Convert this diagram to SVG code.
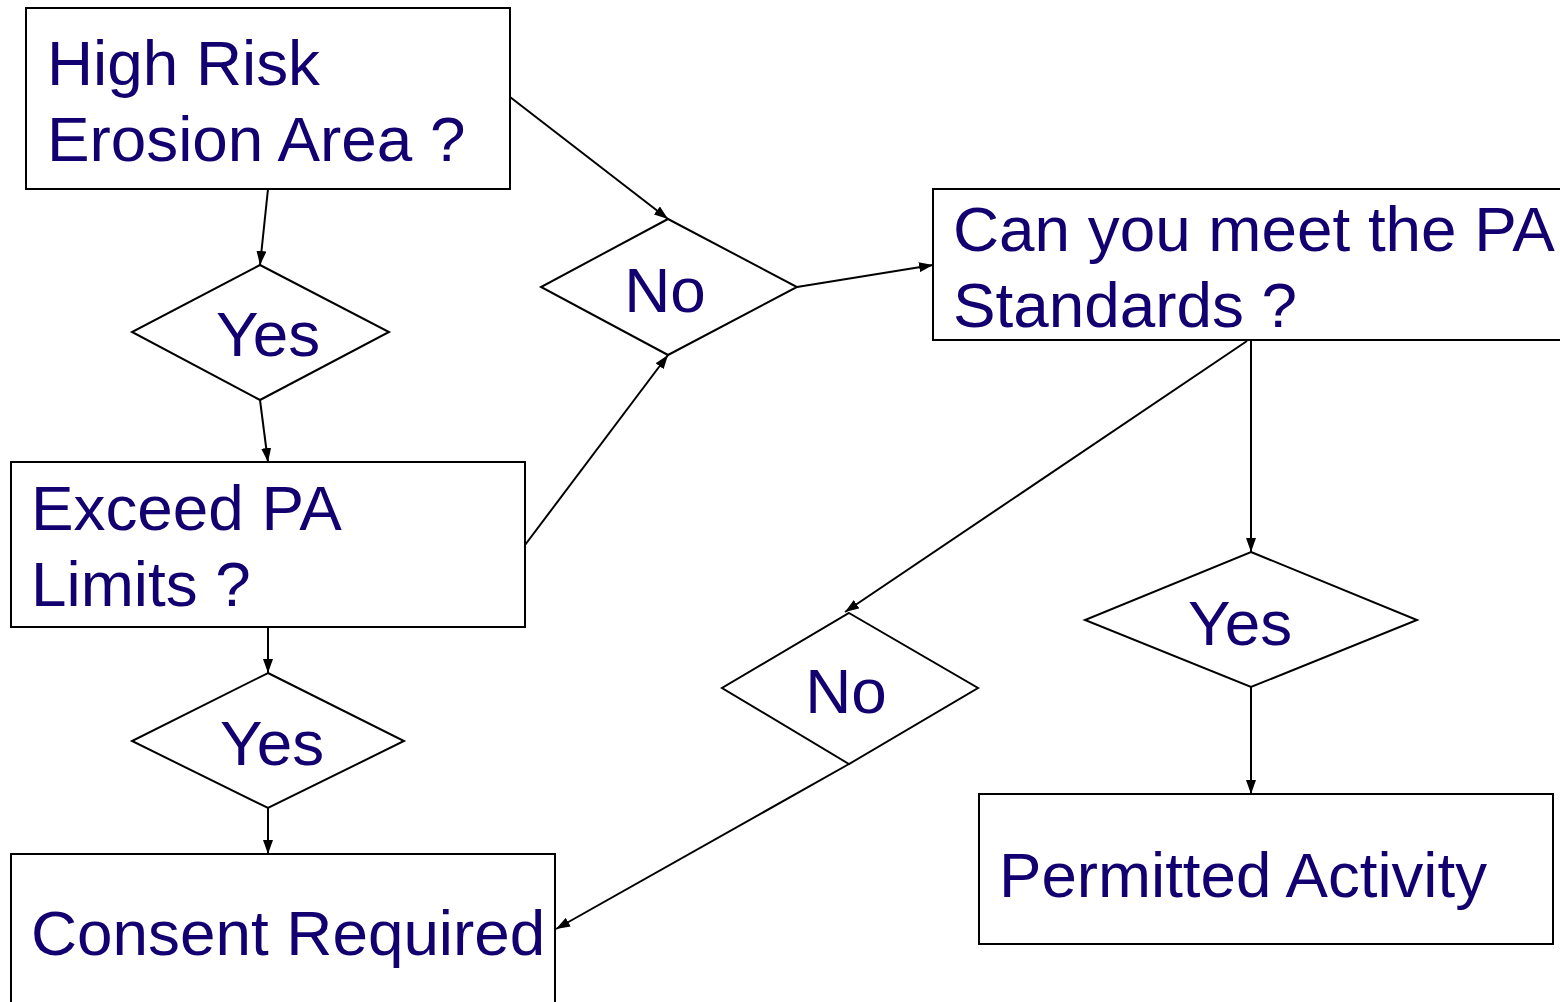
<svg xmlns="http://www.w3.org/2000/svg" width="1560" height="1002" viewBox="0 0 1560 1002">
<defs>
<style>
.box{fill:#fff;stroke:#000;stroke-width:2}
.dia{fill:#fff;stroke:#000;stroke-width:2}
.t{font-family:"Liberation Sans",Arial,sans-serif;font-size:63.8px;fill:#120071}
.c{text-anchor:middle}
.edge{fill:none;stroke:#000;stroke-width:2;marker-end:url(#ah)}
</style>
<marker id="ah" viewBox="0 0 14 10" refX="14" refY="5" markerWidth="14" markerHeight="10" markerUnits="userSpaceOnUse" orient="auto">
<path d="M0,0 L14,5 L0,10 Z" fill="#000"/>
</marker>
</defs>
<rect width="1560" height="1002" fill="#fff"/>
<g id="connectors">
<line class="edge" x1="268" y1="189" x2="260" y2="265"/>
<line class="edge" x1="260" y1="400" x2="268" y2="462"/>
<line class="edge" x1="510" y1="97" x2="668" y2="219"/>
<line class="edge" x1="525" y1="545" x2="668" y2="355"/>
<line class="edge" x1="797" y1="287" x2="933" y2="265"/>
<line class="edge" x1="268" y1="627" x2="268" y2="673"/>
<line class="edge" x1="268" y1="808" x2="268" y2="854"/>
<line class="edge" x1="1251" y1="340" x2="1251" y2="552"/>
<line class="edge" x1="1247" y1="341" x2="845" y2="612"/>
<line class="edge" x1="1251" y1="687" x2="1251" y2="794"/>
<line class="edge" x1="849" y1="764" x2="556" y2="929"/>
</g>
<g id="n_highrisk">
<rect class="box" x="26" y="8" width="484" height="181"/>
<text class="t" x="47" y="85">High Risk</text>
<text class="t" x="47" y="161">Erosion Area ?</text>
</g>
<g id="d_yes1">
<polygon class="dia" points="260,265 389,332 260,400 132,332"/>
<text class="t c" x="268" y="356">Yes</text>
</g>
<g id="n_exceed">
<rect class="box" x="11" y="462" width="514" height="165"/>
<text class="t" x="31" y="530">Exceed PA</text>
<text class="t" x="31" y="606">Limits ?</text>
</g>
<g id="d_yes2">
<polygon class="dia" points="268,673 404,741 268,808 132,741"/>
<text class="t c" x="272" y="765">Yes</text>
</g>
<g id="n_consent">
<rect class="box" x="11" y="854" width="544" height="160"/>
<text class="t" x="31" y="955">Consent Required</text>
</g>
<g id="d_no1">
<polygon class="dia" points="668,219 797,287 668,355 541,287"/>
<text class="t c" x="665" y="312">No</text>
</g>
<g id="n_canmeet">
<rect class="box" x="933" y="189" width="640" height="151"/>
<text class="t" x="953" y="251">Can you meet the PA</text>
<text class="t" x="953" y="327">Standards ?</text>
</g>
<g id="d_no2">
<polygon class="dia" points="849,613 978,688 849,764 722,688"/>
<text class="t c" x="846" y="713">No</text>
</g>
<g id="d_yes3">
<polygon class="dia" points="1251,552 1417,620 1251,687 1085,620"/>
<text class="t c" x="1240" y="645">Yes</text>
</g>
<g id="n_permitted">
<rect class="box" x="979" y="794" width="574" height="150"/>
<text class="t" x="999" y="897" textLength="488" lengthAdjust="spacingAndGlyphs">Permitted Activity</text>
</g>
</svg>
